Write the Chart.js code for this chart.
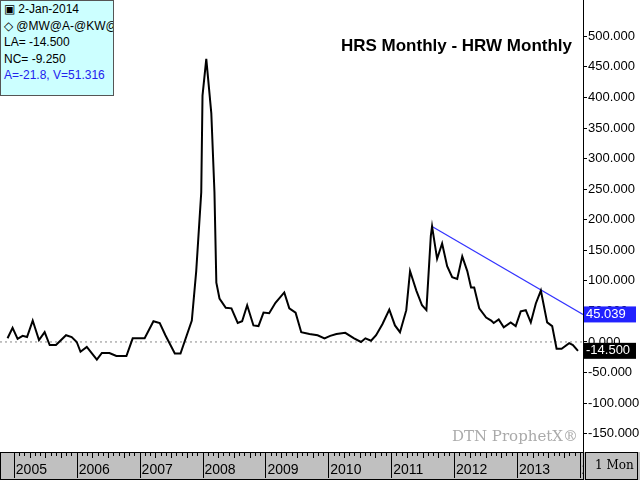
<!DOCTYPE html>
<html>
<head>
<meta charset="utf-8">
<script src="https://cdn.jsdelivr.net/npm/chart.js@4"></script>
<style>
  body { margin: 0; background: #fff; }
  #wrap { position: relative; width: 640px; height: 480px; }
  #info { position: absolute; left: 0; top: 0; width: 114px; height: 96px; background: #ccffff;
          border: 1px solid #555; font: 12px "Liberation Sans Narrow", "Liberation Sans", sans-serif; line-height: 16.5px;
          padding-left: 3px; box-sizing: border-box; overflow: hidden; white-space: nowrap; }
</style>
</head>
<body>
<div id="wrap">
  <canvas id="c" width="640" height="480"></canvas>
  <div id="info">
    <div>&#9635; 2-Jan-2014</div>
    <div>&#9671; @MW@A-@KW@A</div>
    <div>LA= -14.500</div>
    <div>NC= -9.250</div>
    <div style="color:#2222ee">A=-21.8, V=51.316</div>
  </div>
</div>
<script>
// monthly spread HRS - HRW (decimal year, cents)
const years = [2004.90, 2004.98, 2005.06, 2005.14, 2005.21, 2005.30, 2005.40, 2005.49, 2005.57, 2005.67,
  2005.83, 2005.92, 2006.00, 2006.06, 2006.16, 2006.32, 2006.40, 2006.52, 2006.63, 2006.79,
  2006.89, 2007.08, 2007.22, 2007.32, 2007.41, 2007.56, 2007.65, 2007.83, 2007.90, 2007.98,
  2008.00, 2008.06, 2008.14, 2008.19, 2008.22, 2008.27, 2008.37, 2008.46, 2008.56, 2008.63,
  2008.71, 2008.81, 2008.89, 2008.97, 2009.06, 2009.16, 2009.30, 2009.38, 2009.48, 2009.57,
  2009.70, 2009.83, 2009.94, 2010.03, 2010.13, 2010.27, 2010.41, 2010.52, 2010.59, 2010.68,
  2010.76, 2010.86, 2010.97, 2011.06, 2011.14, 2011.24, 2011.30, 2011.40, 2011.49, 2011.56,
  2011.63, 2011.65, 2011.73, 2011.81, 2011.89, 2011.97, 2012.05, 2012.13, 2012.21, 2012.27,
  2012.32, 2012.40, 2012.51, 2012.59, 2012.63, 2012.71, 2012.79, 2012.90, 2012.98, 2013.06,
  2013.14, 2013.22, 2013.30, 2013.38, 2013.48, 2013.56, 2013.63, 2013.71, 2013.83, 2013.89, 2013.97];
const spread = [6, 23, 5, 10, 8, 35, 3, 16, -5, -5,
  11, 8, 0, -16, -8, -29, -18, -18, -23, -23,
  6, 6, 34, 31, 11, -19, -19, 35, 116, 245,
  403, 463, 374, 245, 97, 71, 56, 55, 31, 34,
  60, 27, 26, 48, 47, 64, 81, 55, 48, 16,
  13, 11, 6, 10, 13, 15, 6, 0, 6, 2,
  11, 29, 53, 27, 16, 52, 116, 84, 60, 52,
  173, 189, 136, 161, 124, 106, 103, 140, 116, 89,
  89, 55, 40, 35, 31, 37, 24, 32, 26, 50,
  52, 32, 63, 84, 32, 26, -11, -11, -2, -5, -14.5];
const trendX = [2011.65, 2014.05];
const trendY = [189, 45.039];
const yTicks = [-150, -100, -50, 0, 50, 100, 150, 200, 250, 300, 350, 400, 450, 500];
const yearTicks = [2005, 2006, 2007, 2008, 2009, 2010, 2011, 2012, 2013, 2014];
const xMin = 2004.78, xMax = 2014.05;

const frame = {
  id: 'frame',
  beforeDraw(chart) {
    const { ctx, chartArea: a } = chart;
    ctx.save();
    ctx.fillStyle = '#c0c0c0';
    ctx.fillRect(0, a.bottom, 640, 480 - a.bottom);
    ctx.strokeStyle = '#000';
    ctx.lineWidth = 1;
    ctx.strokeRect(0.5, a.bottom + 0.5, a.right, 479 - a.bottom);
    ctx.strokeRect(a.right + 2.5, a.bottom + 0.5, 637 - a.right - 2, 479 - a.bottom);
    ctx.beginPath();
    ctx.moveTo(a.right + 0.5, 0); ctx.lineTo(a.right + 0.5, a.bottom);
    ctx.stroke();
    ctx.restore();
  },
  afterDraw(chart) {
    const { ctx, chartArea: a, scales } = chart;
    ctx.save();
    ctx.beginPath();
    ctx.rect(0, a.bottom, a.right, 480 - a.bottom);
    ctx.clip();
    // monthly ticks on the time bar
    ctx.strokeStyle = '#000';
    for (let y = 2005; y <= 2014; y++) {
      for (let m = 0; m < 12; m++) {
        const px = Math.round(scales.x.getPixelForValue(y + m / 12)) + 0.5;
        if (px > a.right) continue;
        ctx.beginPath();
        ctx.moveTo(px, a.bottom);
        ctx.lineTo(px, a.bottom + (m === 0 ? 26 : (m % 3 === 0 ? 6 : 4)));
        ctx.stroke();
      }
    }
    ctx.font = '14px "Liberation Sans Narrow", "Liberation Sans", sans-serif';
    ctx.fillStyle = '#000';
    ctx.textBaseline = 'middle';
    yearTicks.forEach(y => {
      const px = scales.x.getPixelForValue(y);
      ctx.fillText(String(y), px + 2, a.bottom + 18);
    });
    ctx.restore();
    ctx.save();
    ctx.textBaseline = 'middle';
    ctx.fillStyle = '#000';
    ctx.font = '12px "DejaVu Serif", serif';
    ctx.fillText('1 Mon', a.right + 12, a.bottom + 14);
    // title and watermark
    ctx.font = 'bold 17px "Liberation Sans Narrow", "Liberation Sans", sans-serif';
    ctx.textAlign = 'right';
    ctx.fillText('HRS Monthly - HRW Monthly', 572, 46);
    ctx.font = '15px "DejaVu Serif", serif';
    ctx.fillStyle = '#aaaaaa';
    ctx.fillText('DTN ProphetX\u00ae', 578, 437);
    // value boxes
    ctx.textAlign = 'left';
    ctx.font = '13px "Liberation Sans Narrow", "Liberation Sans", sans-serif';
    [[45.039, '#2222ff', '45.039'], [-14.5, '#000', '-14.500']].forEach(([v, bg, t]) => {
      const py = scales.y.getPixelForValue(v);
      ctx.fillStyle = bg;
      ctx.fillRect(a.right + 1, py - 8, 52, 16);
      ctx.fillStyle = '#fff';
      ctx.fillText(t, a.right + 3, py);
    });
    ctx.restore();
  }
};

new Chart(document.getElementById('c'), {
  type: 'line',
  data: {
    datasets: [
      {
        data: years.map((x, i) => ({ x, y: spread[i] })),
        borderColor: '#000', borderWidth: 2, pointRadius: 0, tension: 0
      },
      {
        data: trendX.map((x, i) => ({ x, y: trendY[i] })),
        borderColor: '#3333ff', borderWidth: 1.2, pointRadius: 0
      },
      {
        data: [{ x: xMin, y: 0 }, { x: xMax, y: 0 }],
        borderColor: '#888', borderWidth: 1, borderDash: [2, 3], pointRadius: 0
      }
    ]
  },
  plugins: [frame],
  options: {
    responsive: false,
    animation: false,
    layout: { padding: 0 },
    plugins: { legend: { display: false }, tooltip: { enabled: false } },
    scales: {
      x: {
        type: 'linear', min: xMin, max: xMax,
        grid: { display: false }, border: { display: false },
        ticks: { display: false },
        afterFit(s) { s.height = 28; }
      },
      y: {
        position: 'right', min: -180, max: 545,
        afterBuildTicks(s) { s.ticks = yTicks.map(v => ({ value: v })); },
        afterFit(s) { s.width = 57; },
        grid: { drawOnChartArea: false, tickLength: 4, color: '#000' },
        border: { display: false },
        ticks: {
          color: '#000', padding: 1,
          font: { family: '"Liberation Sans Narrow", "Liberation Sans", sans-serif', size: 13 },
          callback: v => v.toFixed(3)
        }
      }
    }
  }
});
</script>
</body>
</html>
